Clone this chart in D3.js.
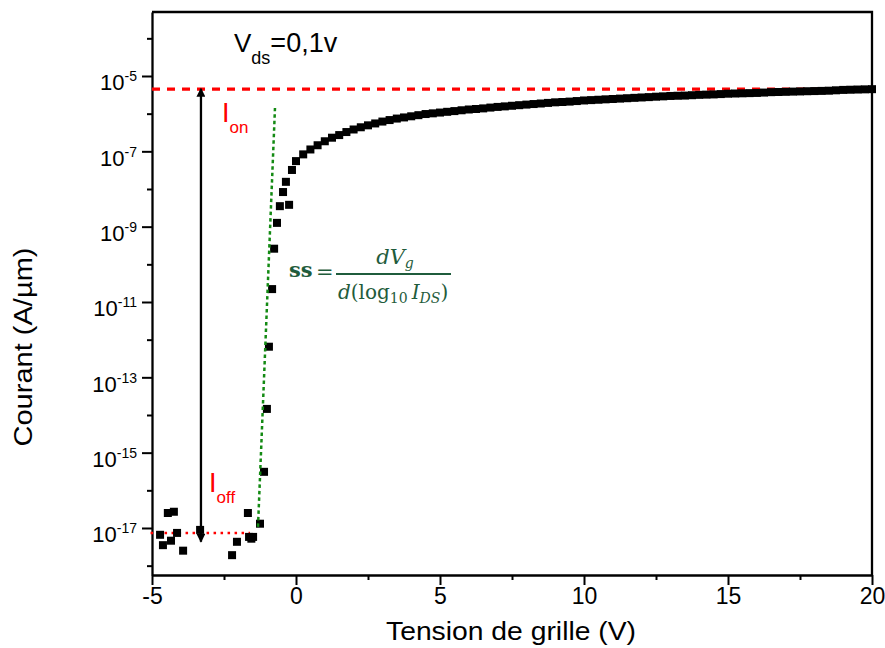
<!DOCTYPE html>
<html><head><meta charset="utf-8">
<script src="https://cdn.jsdelivr.net/npm/d3@7"></script>
<style>body{margin:0;background:#fff}svg{display:block}</style>
</head><body>
<svg id="c" width="885" height="648"></svg>
<script>
// ---------- data ----------
// On-state branch (dense markers), gate voltage (V) and current (A/µm)
const onVg = [0,0.25,0.5,0.75,1,1.25,1.5,1.75,2,2.25,2.5,2.75,3,3.25,3.5,3.75,4,4.25,4.5,4.75,
  5,5.25,5.5,5.75,6,6.25,6.5,6.75,7,7.25,7.5,7.75,8,8.25,8.5,8.75,9,9.25,9.5,9.75,
  10,10.25,10.5,10.75,11,11.25,11.5,11.75,12,12.25,12.5,12.75,13,13.25,13.5,13.75,14,14.25,14.5,14.75,
  15,15.25,15.5,15.75,16,16.25,16.5,16.75,17,17.25,17.5,17.75,18,18.25,18.5,18.75,19,19.25,19.5,19.75,20];
const onId = [5.5e-8,8.3e-8,1.12e-7,1.45e-7,1.85e-7,2.3e-7,2.7e-7,3.25e-7,3.8e-7,4.35e-7,4.9e-7,5.5e-7,6.17e-7,6.76e-7,7.41e-7,7.94e-7,8.51e-7,9.12e-7,9.77e-7,1.02e-6,
  1.07e-6,1.12e-6,1.17e-6,1.23e-6,1.29e-6,1.33e-6,1.38e-6,1.45e-6,1.51e-6,1.56e-6,1.62e-6,1.68e-6,1.74e-6,1.80e-6,1.86e-6,1.93e-6,2.0e-6,2.04e-6,2.09e-6,2.16e-6,
  2.24e-6,2.29e-6,2.34e-6,2.40e-6,2.45e-6,2.51e-6,2.57e-6,2.63e-6,2.69e-6,2.75e-6,2.82e-6,2.88e-6,2.95e-6,2.99e-6,3.02e-6,3.09e-6,3.16e-6,3.20e-6,3.24e-6,3.31e-6,
  3.39e-6,3.43e-6,3.47e-6,3.51e-6,3.55e-6,3.63e-6,3.72e-6,3.76e-6,3.80e-6,3.85e-6,3.89e-6,3.94e-6,3.98e-6,4.02e-6,4.07e-6,4.17e-6,4.27e-6,4.32e-6,4.37e-6,4.42e-6,4.47e-6];
// Off-state and subthreshold markers
const subVg = [-4.72,-4.62,-4.45,-4.24,-4.34,-4.13,-3.92,-3.33,-2.22,-2.05,-1.67,-1.63,-1.55,-1.49,-1.25,
  -1.11,-1.01,-0.94,-0.83,-0.76,-0.66,-0.56,-0.45,-0.35,-0.24,-0.14];
const subId = [6.6e-18,3.5e-18,2.5e-17,2.7e-17,4.6e-18,7.4e-18,2.5e-18,8.9e-18,1.9e-18,4.3e-18,2.5e-17,5.8e-18,5.2e-18,5.8e-18,1.3e-17,
  3.1e-16,1.45e-14,6.5e-13,2.2e-11,2.6e-10,1.26e-9,3.5e-9,8.3e-9,1.55e-8,3.8e-9,3.2e-8];
// annotations
const ionValue = 4.5e-6;
const ioffValue = 7.4e-18;
const ioffSpanVg = [-5.05, -1.6];
const arrowVg = -3.3;
const arrowId = [4.3e-18, 4.6e-6];
const ssLineVg = [-1.32, -0.73];
const ssLineId = [1.07e-17, 1.41e-6];
// ticks
const xMajor = [-5,0,5,10,15,20];
const xMinor = [-2.5,2.5,7.5,12.5,17.5];
const yMajorExp = [-5,-7,-9,-11,-13,-15,-17];
const yMinorExp = [-4,-6,-8,-10,-12,-14,-16,-18];

// ---------- drawing ----------
const svg = d3.select("#c");
const x = d3.scaleLinear().domain([-5,20]).range([152,872]);
const y = d3.scaleLog().domain([5.65e-19, 5e-4]).range([575,12]);
const font = "'Liberation Sans', Arial, sans-serif";

// arrow markers
const defs = svg.append("defs");
defs.append("marker").attr("id","ah").attr("viewBox","0 0 10 10").attr("refX",9).attr("refY",5)
  .attr("markerWidth",11).attr("markerHeight",9).attr("markerUnits","userSpaceOnUse").attr("orient","auto-start-reverse")
  .append("path").attr("d","M0,0 L10,5 L0,10 z").attr("fill","#000");

// axes
const xAxis = svg.append("g").attr("transform",`translate(0,${y.range()[0]})`)
  .call(d3.axisBottom(x).tickValues(xMajor).tickSize(10).tickSizeOuter(0).tickFormat(d=>String(d)));
svg.append("g").attr("transform",`translate(0,${y.range()[0]})`)
  .call(d3.axisBottom(x).tickValues(xMinor).tickSize(5).tickSizeOuter(0).tickFormat(""))
  .select(".domain").remove();
xAxis.selectAll("text").attr("font-family",font).attr("font-size",23).attr("fill","#000").attr("y",13);

const yAxis = svg.append("g").attr("transform",`translate(${x.range()[0]},0)`)
  .call(d3.axisLeft(y).tickValues(yMajorExp.map(e=>Math.pow(10,e))).tickSize(10).tickSizeOuter(0).tickFormat(""));
svg.append("g").attr("transform",`translate(${x.range()[0]},0)`)
  .call(d3.axisLeft(y).tickValues(yMinorExp.map(e=>Math.pow(10,e))).tickSize(5).tickSizeOuter(0).tickFormat(""))
  .select(".domain").remove();
yAxis.selectAll(".tick").each(function(d){
  const e = Math.round(Math.log10(d));
  const t = d3.select(this).append("text").attr("x",-15).attr("y",14).attr("text-anchor","end")
    .attr("font-family",font).attr("fill","#000");
  t.append("tspan").attr("font-size",22).text("10");
  t.append("tspan").attr("font-size",14).attr("dy",-9).text(String(e));
});
svg.selectAll(".domain").attr("stroke-width",2.3);
svg.selectAll(".tick line").attr("stroke-width",2);

// frame (top & right)
svg.append("path").attr("d",`M${x.range()[0]},${y.range()[1]}H${x.range()[1]}V${y.range()[0]}`)
  .attr("fill","none").attr("stroke","#000").attr("stroke-width",2.3);

// axis titles
svg.append("text").attr("x",511).attr("y",640).attr("text-anchor","middle").attr("font-family",font)
  .attr("font-size",25).attr("textLength",250).attr("lengthAdjust","spacingAndGlyphs").text("Tension de grille (V)");
svg.append("text").attr("transform","translate(32,347) rotate(-90)").attr("text-anchor","middle").attr("font-family",font)
  .attr("font-size",26).attr("textLength",199).attr("lengthAdjust","spacingAndGlyphs").text("Courant (A/µm)");

// Ion dashed line
svg.append("line").attr("x1",x.range()[0]).attr("x2",x.range()[1]).attr("y1",y(ionValue)).attr("y2",y(ionValue))
  .attr("stroke","#ff0000").attr("stroke-width",3.2).attr("stroke-dasharray","8,7");
// Ioff dotted line
svg.append("line").attr("x1",x(ioffSpanVg[0])).attr("x2",x(ioffSpanVg[1])).attr("y1",y(ioffValue)).attr("y2",y(ioffValue))
  .attr("stroke","#ff0000").attr("stroke-width",2.5).attr("stroke-dasharray","2.5,4.5");

// markers
const pts = onVg.map((v,i)=>[v,onId[i]]).concat(subVg.map((v,i)=>[v,subId[i]]));
svg.append("g").selectAll("rect").data(pts).join("rect")
  .attr("x",d=>x(d[0])-4).attr("y",d=>y(d[1])-4).attr("width",8).attr("height",8).attr("fill","#000");

// subthreshold slope line
svg.append("line").attr("x1",x(ssLineVg[0])).attr("y1",y(ssLineId[0])).attr("x2",x(ssLineVg[1])).attr("y2",y(ssLineId[1]))
  .attr("stroke","#138a13").attr("stroke-width",2.5).attr("stroke-dasharray","3.5,3");

// double arrow Ion/Ioff
svg.append("line").attr("x1",x(arrowVg)).attr("x2",x(arrowVg)).attr("y1",y(arrowId[0])).attr("y2",y(arrowId[1]))
  .attr("stroke","#000").attr("stroke-width",2.3).attr("marker-start","url(#ah)").attr("marker-end","url(#ah)");

// labels
const vds = svg.append("text").attr("x",234).attr("y",52).attr("font-family",font).attr("fill","#000");
vds.append("tspan").attr("font-size",26).text("V");
vds.append("tspan").attr("font-size",18).attr("dy",12).text("ds");
vds.append("tspan").attr("font-size",27).attr("dy",-12).text("=0,1v");

const ion = svg.append("text").attr("x",222).attr("y",122).attr("font-family",font).attr("fill","#ff0000");
ion.append("tspan").attr("font-size",27).text("I");
ion.append("tspan").attr("font-size",17).attr("dy",11).text("on");

const ioff = svg.append("text").attr("x",209).attr("y",492).attr("font-family",font).attr("fill","#ff0000");
ioff.append("tspan").attr("font-size",27).text("I");
ioff.append("tspan").attr("font-size",17).attr("dy",11).text("off");

// formula
const fc = "#1f5c3c", serif = "'DejaVu Serif','Liberation Serif',serif";
svg.append("text").attr("x",289).attr("y",277).attr("font-family",serif).attr("font-weight","bold")
  .attr("font-size",21).attr("fill",fc).text("ss");
svg.append("text").attr("x",316).attr("y",279).attr("font-family",serif).attr("font-size",21).attr("fill",fc).text("=");
svg.append("line").attr("x1",336).attr("x2",451).attr("y1",274).attr("y2",274).attr("stroke",fc).attr("stroke-width",1.8);
const num = svg.append("text").attr("x",395).attr("y",264).attr("text-anchor","middle").attr("font-family",serif)
  .attr("font-style","italic").attr("font-size",21).attr("fill",fc);
num.append("tspan").text("dV");
num.append("tspan").attr("font-size",14).attr("dy",4).text("g");
const den = svg.append("text").attr("x",338).attr("y",299).attr("font-family",serif).attr("font-size",20).attr("fill",fc);
den.append("tspan").attr("font-style","italic").text("d");
den.append("tspan").text("(log");
den.append("tspan").attr("font-size",14).attr("dy",4).text("10");
den.append("tspan").attr("font-style","italic").attr("dy",-4).attr("dx",4).text("I");
den.append("tspan").attr("font-style","italic").attr("font-size",14).attr("dy",4).text("DS");
den.append("tspan").attr("dy",-4).text(")");
</script>
</body></html>
